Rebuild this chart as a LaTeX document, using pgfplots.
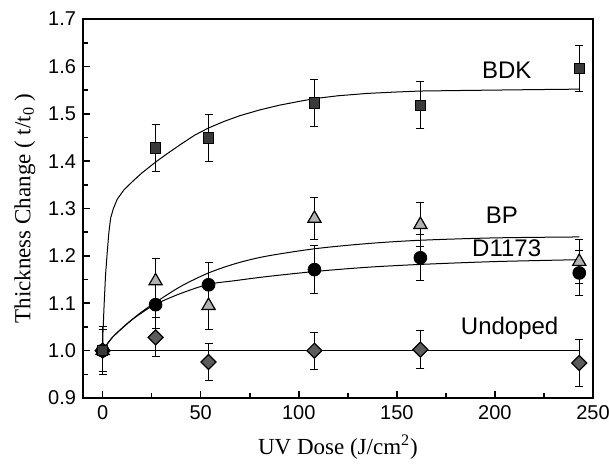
\documentclass[border=0pt]{standalone}
\usepackage{fontspec}
\setmainfont{Liberation Serif}
\setsansfont{Liberation Sans}
\usepackage{pgfplots}
\pgfplotsset{compat=1.18}
\begin{document}
\begin{tikzpicture}
\useasboundingbox (-41.5pt,-35pt) rectangle (263pt,199pt);
\begin{axis}[
  at={(0,0)}, anchor=south west,
  scale only axis, width=255pt, height=189.5pt,
  xmin=-10, xmax=250, ymin=0.9, ymax=1.7,
  axis line style={line width=1pt},
  xtick={0,50,100,150,200,250},
  ytick={0.9,1.0,1.1,1.2,1.3,1.4,1.5,1.6,1.7},
  minor x tick num=1, minor y tick num=1,
  tick align=inside, xtick pos=bottom, ytick pos=left,
  major tick length=3.5pt, minor tick length=2.5pt,
  tick style={line width=0.8pt, black},
  ticklabel style={font=\sffamily\fontsize{10}{12}\selectfont},
  /pgf/number format/assume math mode=true,
  yticklabel style={/pgf/number format/.cd, fixed, fixed zerofill, precision=1},
  xlabel={UV Dose (J/cm\textsuperscript{2})},
  ylabel={Thickness Change ( t/t\textsubscript{0} )},
  label style={font=\fontsize{11.5}{13}\selectfont},
  xlabel style={at={(axis description cs:0.5,-0.129)}, anchor=center},
  ylabel style={at={(axis description cs:-0.114,0.5)}, anchor=center, rotate=0},
  error bars/error bar style={line width=0.5pt, black},
  error bars/error mark options={rotate=90, mark size=2pt, line width=0.5pt, black},
]
% fitted curves
\addplot[black, line width=0.5pt] coordinates {
 (0,1.0) (0.2,1.04) (0.8,1.10) (1.5,1.16) (2.4,1.21) (3.2,1.25) (4.1,1.28)
 (5.5,1.30) (7.5,1.32) (11,1.34) (16,1.36) (20,1.375) (27,1.398) (33,1.416)
 (40,1.436) (47,1.455) (54,1.470) (62,1.484) (70,1.496) (80,1.508) (90,1.518)
 (100,1.526) (108,1.532) (120,1.538) (135,1.543) (150,1.546) (162,1.548)
 (180,1.549) (200,1.550) (220,1.551) (243,1.552)};
\addplot[black, line width=0.5pt, smooth] coordinates {
 (0,1.0) (5,1.028) (13.4,1.06) (20,1.082) (27,1.102) (40,1.136) (54,1.164)
 (68,1.184) (83,1.199) (108,1.215) (135,1.226) (162,1.233) (200,1.238) (243,1.240)};
\addplot[black, line width=0.5pt, smooth] coordinates {
 (0,1.0) (5,1.028) (13.4,1.06) (20,1.08) (27,1.098) (40,1.121) (54,1.140)
 (68,1.148) (83,1.156) (108,1.167) (135,1.176) (162,1.182) (200,1.188) (243,1.192)};
\addplot[black, line width=0.5pt] coordinates {(0,1.0) (243,1.0)};
% Undoped
\addplot[only marks, mark=square*, mark size=2.65pt,
  mark options={rotate=45, fill=gray!40!black!80, draw=black, line width=0.6pt},
  error bars/.cd, y dir=both, y explicit]
  table[x=x, y=y, y error=e] {
x y e
0 1.0 0.045
27 1.028 0.041
54 0.976 0.040
108 1.0 0.039
162 1.002 0.040
243 0.974 0.050
};
% D1173
\addplot[only marks, mark=*, mark size=3.2pt,
  mark options={fill=black, draw=black},
  error bars/.cd, y dir=both, y explicit]
  table[x=x, y=y, y error=e] {
x y e
0 1.0 0.05
27 1.097 0.05
54 1.139 0.048
108 1.171 0.05
162 1.196 0.049
243 1.164 0.047
};
% BP
\addplot[only marks, mark=triangle*, mark size=3.8pt,
  mark options={fill=gray!60, draw=black, line width=0.6pt},
  error bars/.cd, y dir=both, y explicit]
  table[x=x, y=y, y error=e] {
x y e
0 1.0 0.045
27 1.147 0.047
54 1.095 0.05
108 1.279 0.045
162 1.266 0.046
243 1.188 0.047
};
% BDK
\addplot[only marks, mark=square*, mark size=2.6pt,
  mark options={fill=gray!45!black, draw=black, line width=0.5pt},
  error bars/.cd, y dir=both, y explicit]
  table[x=x, y=y, y error=e] {
x y e
0 1.0 0.05
27 1.428 0.05
54 1.449 0.05
108 1.523 0.05
162 1.518 0.05
243 1.596 0.049
};
\node[font=\sffamily\fontsize{12}{14}\selectfont] at (axis cs:206,1.592) {BDK};
\node[font=\sffamily\fontsize{12}{14}\selectfont] at (axis cs:203.5,1.286) {BP};
\node[font=\sffamily\fontsize{12}{14}\selectfont] at (axis cs:206,1.216) {D1173};
\node[font=\sffamily\fontsize{12}{14}\selectfont] at (axis cs:207.5,1.047) {Undoped};
\end{axis}
\end{tikzpicture}
\end{document}
